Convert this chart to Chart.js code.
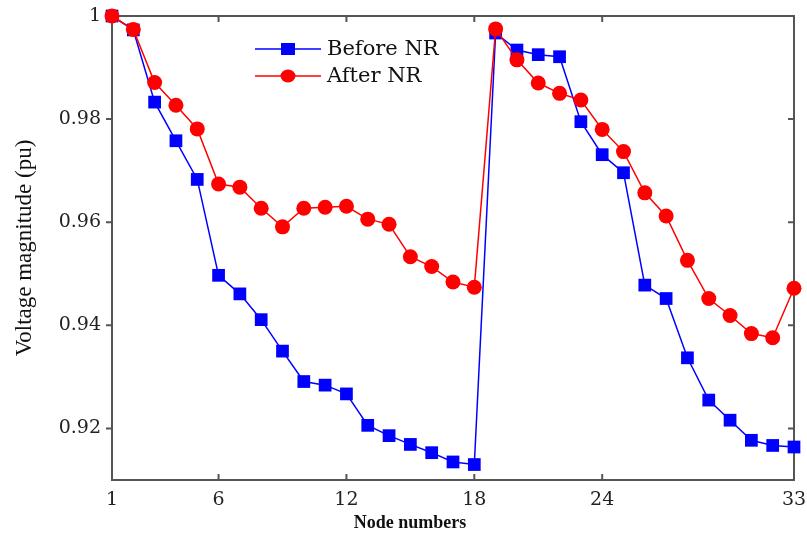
<!DOCTYPE html>
<html>
<head>
<meta charset="utf-8">
<script src="https://cdn.jsdelivr.net/npm/chart.js@4/dist/chart.umd.min.js"></script>
<style>
  html, body { margin: 0; padding: 0; background: #fff; }
  #wrap { width: 807px; height: 535px; }
</style>
</head>
<body>
<div id="wrap"><canvas id="voltChart" width="807" height="535"></canvas></div>
<script>
// dados
const nodes = [1, 2, 3, 4, 5, 6, 7, 8, 9, 10, 11, 12, 13, 14, 15, 16, 17,
  18, 19, 20, 21, 22, 23, 24, 25, 26, 27, 28, 29, 30, 31, 32, 33];
const beforeNR = [1.0, 0.9973, 0.9833, 0.9758, 0.9683, 0.9497, 0.9461, 0.9411,
  0.9350, 0.9291, 0.9284, 0.9267, 0.9206, 0.9186, 0.9169, 0.9153, 0.9135,
  0.9130, 0.9967, 0.9934, 0.9925, 0.9921, 0.9795, 0.9731, 0.9696, 0.9478,
  0.9452, 0.9337, 0.9255, 0.9216, 0.9177, 0.9167, 0.9164];
const afterNR = [1.0, 0.9974, 0.9871, 0.9827, 0.9781, 0.9674, 0.9668, 0.9627,
  0.9591, 0.9627, 0.9629, 0.9631, 0.9606, 0.9596, 0.9533, 0.9514, 0.9484,
  0.9474, 0.9975, 0.9915, 0.9870, 0.9850, 0.9837, 0.9780, 0.9737, 0.9657,
  0.9612, 0.9526, 0.9452, 0.9419, 0.9384, 0.9376, 0.9472];
const xTicks = [1, 6, 12, 18, 24, 33];
const yTicks = [0.92, 0.94, 0.96, 0.98, 1];
const seriesNames = ['Before NR', 'After NR'];

const serif = "'Liberation Serif', 'Times New Roman', serif";
const wideSerif = "'DejaVu Serif', serif";

function toPoints(ys) {
  return nodes.map((n, i) => ({ x: n, y: ys[i] }));
}

// moldura com marcas de escala para dentro (estilo MATLAB)
const framePlugin = {
  id: 'frame',
  beforeDatasetsDraw(chart) {
    const { ctx, chartArea: a, scales } = chart;
    ctx.save();
    ctx.strokeStyle = '#555';
    ctx.lineWidth = 2;
    ctx.beginPath();
    xTicks.forEach(v => {
      const px = scales.x.getPixelForValue(v);
      ctx.moveTo(px, a.bottom); ctx.lineTo(px, a.bottom - 6);
      ctx.moveTo(px, a.top); ctx.lineTo(px, a.top + 6);
    });
    yTicks.forEach(v => {
      const py = scales.y.getPixelForValue(v);
      ctx.moveTo(a.left, py); ctx.lineTo(a.left - 6, py);
      ctx.moveTo(a.right, py); ctx.lineTo(a.right - 6, py);
    });
    ctx.stroke();
    ctx.strokeRect(a.left, a.top, a.right - a.left, a.bottom - a.top);
    ctx.restore();
  }
};

// legenda dentro da área do gráfico + título do eixo x (deslocado à esquerda)
const legendPlugin = {
  id: 'insideLegend',
  afterDraw(chart) {
    const { ctx } = chart;
    const rows = [
      { label: seriesNames[0], color: '#0000ff', shape: 'square', y: 49 },
      { label: seriesNames[1], color: '#ff0000', shape: 'circle', y: 76 }
    ];
    ctx.save();
    rows.forEach(r => {
      ctx.strokeStyle = r.color;
      ctx.fillStyle = r.color;
      ctx.lineWidth = 1.5;
      ctx.beginPath();
      ctx.moveTo(255, r.y); ctx.lineTo(321, r.y);
      ctx.stroke();
      if (r.shape === 'square') {
        ctx.fillRect(288 - 7, r.y - 6, 14, 12);
      } else {
        ctx.beginPath();
        ctx.ellipse(288, r.y, 7.5, 6.5, 0, 0, Math.PI * 2);
        ctx.fill();
      }
      ctx.fillStyle = '#111';
      ctx.font = '21px ' + wideSerif;
      ctx.textBaseline = 'middle';
      ctx.textAlign = 'left';
      ctx.fillText(r.label, 327, r.y + 1);
    });

    ctx.fillStyle = '#111';
    ctx.font = 'bold 18px ' + serif;
    ctx.textAlign = 'center';
    ctx.textBaseline = 'middle';
    ctx.fillText('Node numbers', 410, 523);
    ctx.restore();
  }
};

const ctx = document.getElementById('voltChart').getContext('2d');
new Chart(ctx, {
  type: 'line',
  data: {
    datasets: [{
      label: seriesNames[0],
      data: toPoints(beforeNR),
      borderColor: '#0000ff',
      backgroundColor: '#0000ff',
      borderWidth: 1.5,
      pointStyle: 'rect',
      pointRadius: 9,
      pointBorderWidth: 0,
      tension: 0,
      clip: false,
      order: 1
    }, {
      label: seriesNames[1],
      data: toPoints(afterNR),
      borderColor: '#ff0000',
      backgroundColor: '#ff0000',
      borderWidth: 1.5,
      pointStyle: 'circle',
      pointRadius: 7.5,
      pointBorderWidth: 0,
      tension: 0,
      clip: false,
      order: 0
    }]
  },
  options: {
    responsive: false,
    animation: false,
    events: [],
    layout: { padding: { left: 0, right: 13, top: 16, bottom: 0 } },
    plugins: {
      legend: { display: false },
      tooltip: { enabled: false }
    },
    scales: {
      x: {
        type: 'linear',
        min: 1,
        max: 33,
        afterBuildTicks: s => { s.ticks = xTicks.map(v => ({ value: v })); },
        afterFit: s => { s.height = 55; s.paddingLeft = 0; s.paddingRight = 0; },
        grid: { display: false, drawTicks: false },
        border: { display: false },
        ticks: {
          padding: 9,
          color: '#222',
          font: { family: wideSerif, size: 19 },
          maxRotation: 0,
          autoSkip: false
        }
      },
      y: {
        min: 0.91,
        max: 1,
        afterBuildTicks: s => { s.ticks = yTicks.map(v => ({ value: v })); },
        afterFit: s => { s.width = 112; s.paddingTop = 0; s.paddingBottom = 0; },
        grid: { display: false, drawTicks: false },
        border: { display: false },
        ticks: {
          padding: 11,
          color: '#222',
          font: { family: wideSerif, size: 19 },
          callback: v => (v === 1 ? '1' : v.toFixed(2))
        },
        title: {
          display: true,
          text: 'Voltage magnitude (pu)',
          color: '#111',
          font: { family: serif, size: 23 },
          padding: { top: 11, bottom: 0 }
        }
      }
    }
  },
  plugins: [framePlugin, legendPlugin]
});
</script>
</body>
</html>
